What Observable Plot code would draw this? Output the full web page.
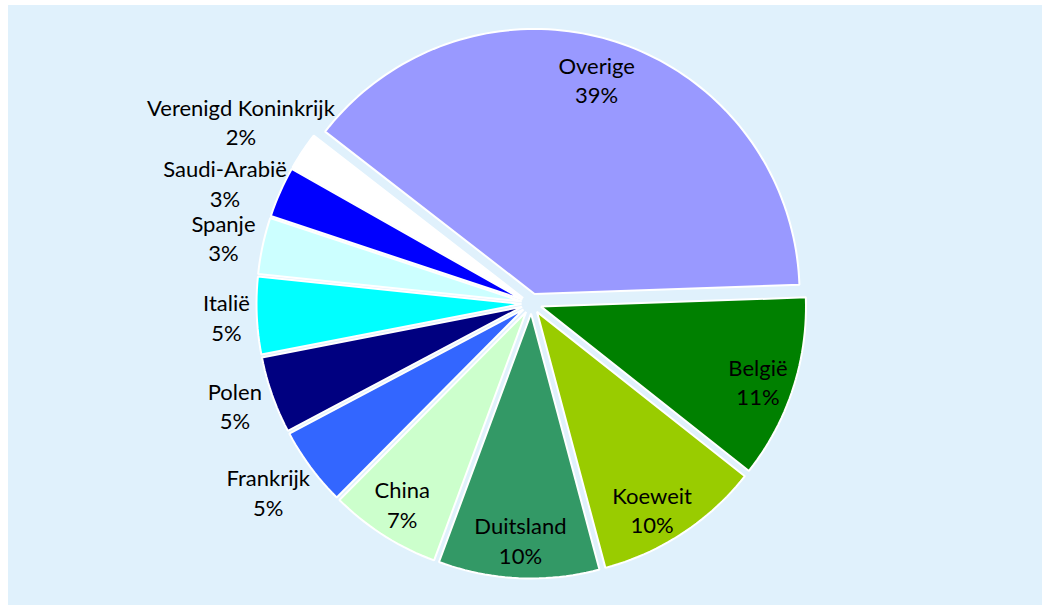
<!DOCTYPE html>
<html><head><meta charset="utf-8">
<script src="https://cdn.jsdelivr.net/npm/d3@7"></script>
<script src="https://cdn.jsdelivr.net/npm/@observablehq/plot@0.6"></script>
<style>
html,body{margin:0;padding:0;background:#ffffff;}
#chart{position:absolute;left:8px;top:5px;width:1034px;height:600px;background:#e0f1fc;}
#chart svg{display:block;background:transparent;}
</style></head><body><div id="chart"></div>
<script>
// ---- data ----
const countries = ["België","Koeweit","Duitsland","China","Frankrijk","Polen","Italië","Spanje","Saudi-Arabië","Verenigd Koninkrijk","Overige"];
const shares = [11.2, 10.2, 9.8, 6.8, 4.8, 4.7, 4.7, 3.45, 3.1, 2.3, 38.95];
const colors = ["#008000","#99cc00","#339966","#ccffcc","#3366ff","#000080","#00ffff","#ccffff","#0000ff","#ffffff","#9999ff"];

// ---- layout (not data) ----
const W = 1034, H = 600, CX = 523, CY = 298, RPX = 265;
const EXPLODE = 10 / RPX;      // uniform explosion, in radius units
const START = 88;              // first slice angle, degrees clockwise from 12 o'clock
const labelDist = [0.903, 0.899, 0.892, 0.899, 1.221, 1.183, 1.152, 1.189, 1.243, 1.295, 0.882];
const labelTurn = [0.7, 2.9, 0, 0.3, 1.0, 0.6, 0.1, 0, -2.4, -1.5, -1.7];

const rad = Math.PI / 180;
const total = d3.sum(shares);
let acc = START;
const slices = countries.map((name, i) => {
  const a0 = acc, a1 = acc + shares[i] / total * 360;
  acc = a1;
  return {name, share: shares[i], color: colors[i], a0, a1, mid: (a0 + a1) / 2, i};
});

const points = [];
for (const s of slices) {
  const ox = EXPLODE * Math.sin(s.mid * rad), oy = EXPLODE * Math.cos(s.mid * rad);
  points.push({name: s.name, color: s.color, x: ox, y: oy});
  const n = Math.max(8, Math.ceil((s.a1 - s.a0) / 1.5));
  for (let k = 0; k <= n; k++) {
    const t = (s.a0 + (s.a1 - s.a0) * k / n) * rad;
    points.push({name: s.name, color: s.color, x: ox + Math.sin(t), y: oy + Math.cos(t)});
  }
}

const labels = slices.map(s => {
  const a = (s.mid + labelTurn[s.i]) * rad;
  return {
    x: labelDist[s.i] * Math.sin(a),
    y: labelDist[s.i] * Math.cos(a),
    text: `${s.name}\n${Math.round(s.share)}%`
  };
});

const chart = Plot.plot({
  width: W, height: H,
  margin: 0,
  x: {domain: [-CX / RPX, (W - CX) / RPX], range: [0, W], axis: null},
  y: {domain: [-(H - CY) / RPX, CY / RPX], range: [H, 0], axis: null},
  color: {type: "identity"},
  style: {fontFamily: "Lato, 'Open Sans', sans-serif", background: "transparent"},
  marks: [
    Plot.line(points, {x: "x", y: "y", z: "name", fill: "color", stroke: "#ffffff", strokeWidth: 2, curve: "linear-closed", strokeLinejoin: "miter"}),
    Plot.text(labels, {x: "x", y: "y", text: "text", fontSize: 22, lineHeight: 1.34, fill: "#000000"})
  ]
});
document.getElementById("chart").appendChild(chart);
</script></body></html>
